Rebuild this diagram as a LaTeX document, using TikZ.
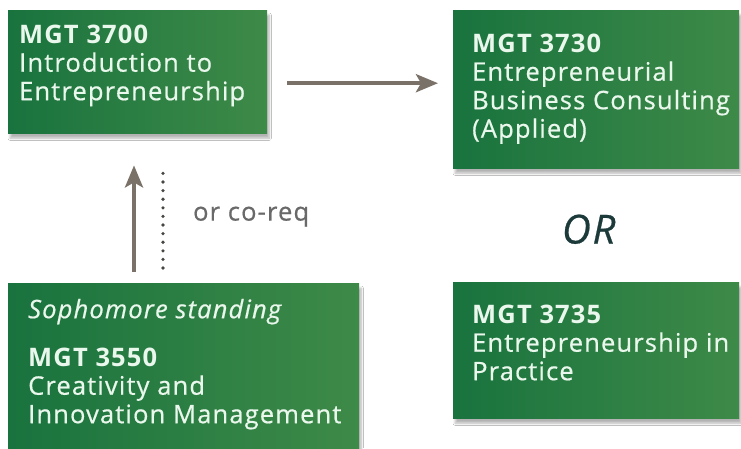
\documentclass[tikz,border=0pt]{standalone}
\usepackage{fontspec}
\setmainfont{Open Sans}[LetterSpace=4.5, UprightFeatures={FakeBold=0.6}, ItalicFeatures={FakeBold=0.6}]
\usetikzlibrary{calc}
\usetikzlibrary{arrows.meta}
\usetikzlibrary{shadows.blur}

\definecolor{boxdark}{RGB}{25,115,62}
\definecolor{boxlight}{RGB}{62,138,72}
\definecolor{boxtext}{RGB}{234,247,236}
\definecolor{arrowgray}{RGB}{122,114,104}
\definecolor{dotgray}{RGB}{70,70,66}
\definecolor{notegray}{RGB}{105,105,105}
\definecolor{ortext}{RGB}{28,58,58}

% width, height, left pad, first baseline, text
\newcommand{\coursetext}[5]{\parbox[t][#2pt][t]{#1pt}{\raggedright\leftskip=#3pt\rule{0pt}{#4pt}#5}}

\begin{document}
\begin{tikzpicture}[x=1pt, y=-1pt,
  course/.style={anchor=north west, inner sep=0pt, left color=boxdark, right color=boxlight,
    text=boxtext, font=\fontsize{25.5}{28.5}\selectfont,
    blur shadow={shadow xshift=2pt, shadow yshift=-5pt, shadow blur steps=10, shadow opacity=30}},
  flow/.style={arrowgray, line width=4pt, -{Stealth[length=22pt, width=18pt, inset=5pt]}}]
\useasboundingbox[fill=white] (0,0) rectangle (741,448);

\node[course] (a3700) at (8,10) {\coursetext{259}{123}{11}{33}{\textbf{MGT 3700}\\Introduction to\\Entrepreneurship}};
\node[course] (a3730) at (453,10) {\coursetext{286}{158}{19}{42}{\textbf{MGT 3730}\\Entrepreneurial\\Business Consulting\\(Applied)}};
\node[course] (a3550) at (8,283) {\coursetext{351}{165}{20}{35}{\textit{Sophomore standing}\\[19.5pt]\textbf{MGT 3550}\\Creativity and\\Innovation Management}};
\node[course] (a3735) at (453,282) {\coursetext{286}{136}{19}{41}{\textbf{MGT 3735}\\Entrepreneurship in\\Practice}};

\node[ortext, font=\fontsize{40}{44}\selectfont\itshape] (or) at ($(a3730.south)!0.5!(a3735.north)+(-7.5,4)$) {OR};

% prerequisite arrows
\draw[flow] ($(a3700.east)+(20,11.5)$) -- ($(a3730.west)+(-15,-6)$);
\draw[flow] ($(a3550.north west)+(126,-11)$) -- ($(a3700.south west)+(126,32)$);
\draw[dotgray, line width=3.6pt, line cap=round, dash pattern=on 0pt off 8.6pt]
  ($(a3550.north west)+(155,-15)$) -- ($(a3700.south west)+(155,32)$)
  node[midway, right, xshift=25pt, notegray, font=\fontsize{25.5}{28.5}\selectfont] (coreq) {or co-req};
\end{tikzpicture}
\end{document}
